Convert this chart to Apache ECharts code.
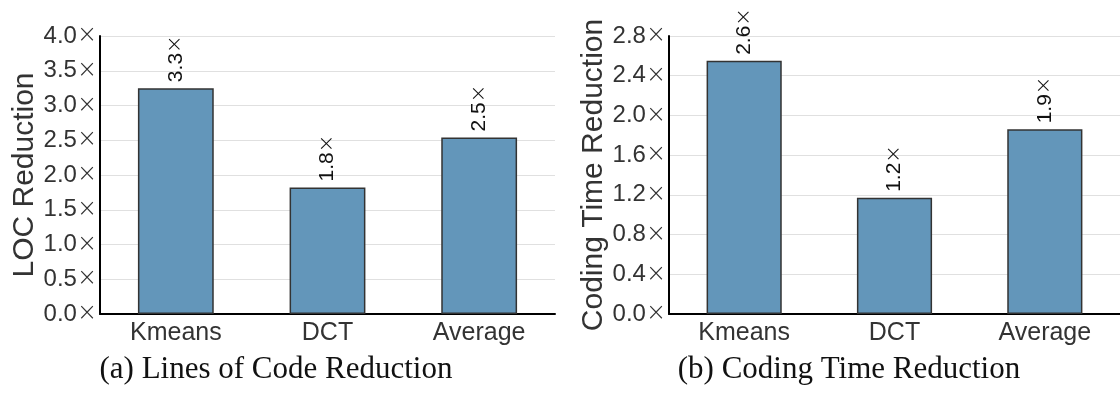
<!DOCTYPE html>
<html>
<head>
<meta charset="utf-8">
<script src="https://cdn.jsdelivr.net/npm/echarts@6/dist/echarts.min.js"></script>
<style>
html,body{margin:0;padding:0;background:#fff;}
#chart{width:1120px;height:398px;}
</style>
</head>
<body>
<div id="chart"></div>
<script>
const categories = ['Kmeans', 'DCT', 'Average'];
const locValues = [3.25, 1.82, 2.54];
const locLabels = ['3.3', '1.8', '2.5'];
const timeValues = [2.55, 1.17, 1.86];
const timeLabels = ['2.6', '1.2', '1.9'];
const locTicks = { min: 0, max: 4.0, interval: 0.5 };
const timeTicks = { min: 0, max: 2.8, interval: 0.4 };
const subtitles = ['(a) Lines of Code Reduction', '(b) Coding Time Reduction'];
const yNames = ['LOC Reduction', 'Coding Time Reduction'];

const SANS = 'Liberation Sans, Arial, Helvetica, sans-serif';
const TIMES_FONT = 'DejaVu Sans';
const BAR = '#6396ba';

function xAxis(gi) {
  return {
    type: 'category', gridIndex: gi, data: categories,
    axisLine: { show: true, lineStyle: { color: '#000', width: 2 } },
    axisTick: { show: false },
    axisLabel: { color: '#333', fontFamily: SANS, fontSize: 25, margin: 7 }
  };
}
function yAxis(gi, t, name) {
  return {
    type: 'value', gridIndex: gi, min: t.min, max: t.max, interval: t.interval,
    name: name, nameLocation: 'middle', nameGap: 60,
    nameTextStyle: { color: '#333', fontFamily: SANS, fontSize: 30 },
    axisLine: { show: true, lineStyle: { color: '#000', width: 2 } },
    axisTick: { show: false },
    axisLabel: { color: '#333', fontFamily: SANS, fontSize: 24, margin: 3,
      formatter: v => v.toFixed(1) + '{x|×}',
      rich: { x: { fontFamily: TIMES_FONT, fontWeight: 200, fontSize: 24, color: '#333' } } },
    splitLine: { show: true, lineStyle: { color: '#e0e0e0', width: 1.2 } }
  };
}
function series(gi, vals, labels) {
  return {
    type: 'bar', xAxisIndex: gi, yAxisIndex: gi, data: vals, barWidth: '50%',
    itemStyle: { color: BAR, borderColor: '#333', borderWidth: 1.5 },
    label: { show: true, position: 'top', rotate: 90, align: 'left', verticalAlign: 'middle',
      distance: 6, color: '#111', fontFamily: SANS, fontSize: 21,
      formatter: p => labels[p.dataIndex] + '{x|×}',
      rich: { x: { fontFamily: TIMES_FONT, fontWeight: 200, fontSize: 21, color: '#111' } } },
    animation: false
  };
}

const chart = echarts.init(document.getElementById('chart'), null, { renderer: 'canvas' });
chart.setOption({
  animation: false,
  backgroundColor: '#fff',
  title: [
    { text: subtitles[0], left: 271, top: 349, textAlign: 'center',
      textStyle: { fontFamily: 'Liberation Serif, DejaVu Serif, serif', fontWeight: 'normal', fontSize: 31, color: '#111' } },
    { text: subtitles[1], left: 844, top: 349, textAlign: 'center',
      textStyle: { fontFamily: 'Liberation Serif, DejaVu Serif, serif', fontWeight: 'normal', fontSize: 31, color: '#111' } }
  ],
  grid: [
    { left: 100, right: 565, top: 36, bottom: 84, containLabel: false },
    { left: 669, right: -8, top: 36, bottom: 84, containLabel: false }
  ],
  xAxis: [xAxis(0), xAxis(1)],
  yAxis: [yAxis(0, locTicks, yNames[0]), yAxis(1, timeTicks, yNames[1])],
  series: [series(0, locValues, locLabels), series(1, timeValues, timeLabels)]
});
</script>
</body>
</html>
